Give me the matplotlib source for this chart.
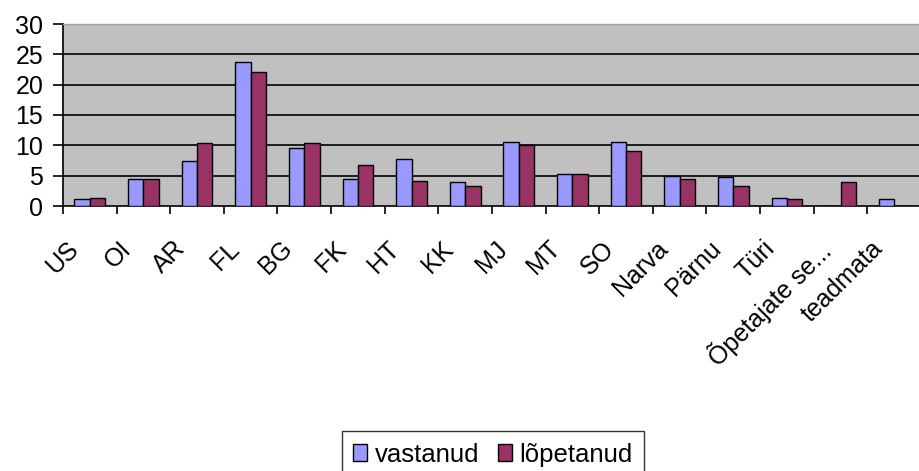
import matplotlib
matplotlib.use("Agg")
import matplotlib.pyplot as plt
import matplotlib.transforms as mtransforms
import numpy as np

plt.rcParams['font.family'] = ['Liberation Sans', 'DejaVu Sans']

categories = ["US", "OI", "AR", "FL", "BG", "FK", "HT", "KK", "MJ", "MT", "SO",
              "Narva", "Pärnu", "Türi", "Õpetajate se...", "teadmata"]
vastanud = [1.1, 4.4, 7.5, 23.8, 9.5, 4.4, 7.8, 3.9, 10.6, 5.3, 10.6, 5.0, 4.8, 1.4, 0.0, 1.1]
lopetanud = [1.4, 4.4, 10.4, 22.1, 10.4, 6.7, 4.2, 3.3, 10.0, 5.3, 9.0, 4.4, 3.3, 1.1, 3.9, 0.0]
series_names = ["vastanud", "lõpetanud"]
yticks = [0, 5, 10, 15, 20, 25, 30]

fig = plt.figure(figsize=(9.2, 4.71), dpi=100)
ax = fig.add_axes([63/920, 1-206/471, (921-63)/920, (206-24)/471])
ax.set_facecolor("#C0C0C0")

x = np.arange(len(categories))
w = 1/3.5
ax.bar(x - w/2, vastanud, w, color="#9999FF", edgecolor="black", linewidth=1.0,
       label=series_names[0], zorder=3)
ax.bar(x + w/2, lopetanud, w, color="#993366", edgecolor="black", linewidth=1.0,
       label=series_names[1], zorder=3)

ax.set_xlim(-0.5, len(categories) - 0.5)
ax.set_ylim(0, 30)
ax.set_yticks(yticks)
ax.set_yticklabels([str(t) for t in yticks], fontsize=18)
for t in yticks[1:-1]:
    ax.axhline(t, color="black", linewidth=1.2, zorder=1)

ax.spines['top'].set_color("#A0A0A0")
ax.spines['top'].set_linewidth(1.0)
ax.spines['right'].set_visible(False)
ax.spines['left'].set_color("black")
ax.spines['left'].set_linewidth(1.2)
ax.spines['bottom'].set_color("black")
ax.spines['bottom'].set_linewidth(1.2)

ax.tick_params(axis='y', direction='out', length=7.2, width=1.2, pad=7, colors='black')
# x ticks at category boundaries
ax.set_xticks(np.arange(-0.5, len(categories) - 0.5 + 0.01, 1.0))
ax.set_xticklabels([])
ax.tick_params(axis='x', direction='out', length=6, width=1.2, colors='black')
ax.set_xticks(x, minor=True)
ax.set_xticklabels(categories, minor=True, rotation=45, ha='right', va='top',
                   rotation_mode='anchor', fontsize=18)
ax.tick_params(axis='x', which='minor', length=0, pad=22)
offset = mtransforms.ScaledTranslation(-24/100, 0, fig.dpi_scale_trans)
for lbl in ax.xaxis.get_minorticklabels():
    lbl.set_transform(lbl.get_transform() + offset)

leg = ax.legend(loc='upper center', bbox_to_anchor=(493/920, 1-431/471),
                bbox_transform=fig.transFigure, ncol=2, fontsize=18.5,
                frameon=True, fancybox=False, shadow=False,
                handlelength=0.55, handleheight=0.6, handletextpad=0.3,
                columnspacing=0.7, borderpad=0.45, borderaxespad=0)
leg.get_frame().set_edgecolor("black")
leg.get_frame().set_linewidth(1.0)

fig.savefig("out.png", dpi=100, facecolor="white")
